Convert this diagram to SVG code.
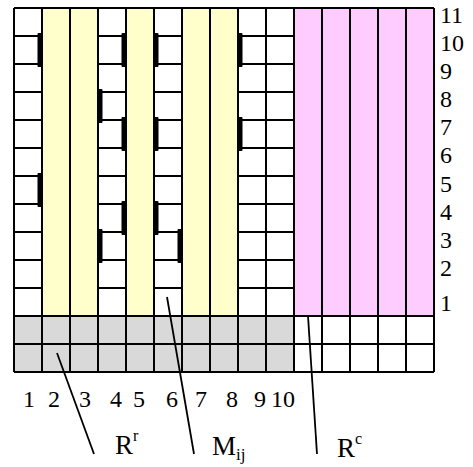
<svg xmlns="http://www.w3.org/2000/svg" width="473" height="467" viewBox="0 0 473 467">
<style>
.ln{stroke:#000;stroke-width:2;fill:none}
.yel{fill:#ffffcc}
.pnk{fill:#ffccff}
.gry{fill:#d9d9d9}
.bar{fill:#000}
.lead{stroke:#000;stroke-width:1.8;fill:none}
</style>
<rect width="473" height="467" fill="#fff"/>
<g id="fills">
<rect class="yel" x="42" y="8" width="56" height="308"/>
<rect class="yel" x="126" y="8" width="28" height="308"/>
<rect class="yel" x="182" y="8" width="56" height="308"/>
<rect class="pnk" x="294" y="8" width="140" height="308"/>
<rect class="gry" x="14" y="316" width="280" height="56"/>
</g>
<g id="grid">
<path class="ln" d="M14 36H42M14 64H42M14 92H42M14 120H42M14 148H42M14 176H42M14 204H42M14 232H42M14 260H42M14 288H42"/>
<path class="ln" d="M98 36H126M98 64H126M98 92H126M98 120H126M98 148H126M98 176H126M98 204H126M98 232H126M98 260H126M98 288H126"/>
<path class="ln" d="M154 36H182M154 64H182M154 92H182M154 120H182M154 148H182M154 176H182M154 204H182M154 232H182M154 260H182M154 288H182"/>
<path class="ln" d="M238 36H294M238 64H294M238 92H294M238 120H294M238 148H294M238 176H294M238 204H294M238 232H294M238 260H294M238 288H294"/>
<path class="ln" d="M14 8H434M14 316H434M14 344H434M14 372H434"/>
<path class="ln" d="M14 8V372M42 8V372M70 8V372M98 8V372M126 8V372M154 8V372M182 8V372M210 8V372M238 8V372M266 8V372M294 8V372M322 8V372M350 8V372M378 8V372M406 8V372M434 8V372"/>
</g>
<g id="bars">
<rect class="bar" x="37.5" y="33" width="4.5" height="34" rx="1"/>
<rect class="bar" x="37.5" y="173" width="4.5" height="34" rx="1"/>
<rect class="bar" x="98" y="89" width="4.5" height="34" rx="1"/>
<rect class="bar" x="98" y="229" width="4.5" height="34" rx="1"/>
<rect class="bar" x="121.5" y="33" width="4.5" height="34" rx="1"/>
<rect class="bar" x="121.5" y="117" width="4.5" height="34" rx="1"/>
<rect class="bar" x="121.5" y="201" width="4.5" height="34" rx="1"/>
<rect class="bar" x="154" y="33" width="4.5" height="34" rx="1"/>
<rect class="bar" x="154" y="117" width="4.5" height="34" rx="1"/>
<rect class="bar" x="154" y="201" width="4.5" height="34" rx="1"/>
<rect class="bar" x="177.5" y="229" width="4.5" height="34" rx="1"/>
<rect class="bar" x="238" y="33" width="4.5" height="34" rx="1"/>
<rect class="bar" x="238" y="117" width="4.5" height="34" rx="1"/>
</g>
<g id="row-labels" font-family="'Liberation Serif', 'Times New Roman', serif" font-size="24" fill="#000">
<text x="440" y="23">11</text>
<text x="440" y="51">10</text>
<text x="440" y="79">9</text>
<text x="440" y="107">8</text>
<text x="440" y="135">7</text>
<text x="440" y="163">6</text>
<text x="440" y="192">5</text>
<text x="440" y="220">4</text>
<text x="440" y="248">3</text>
<text x="440" y="276">2</text>
<text x="440" y="311">1</text>
</g>
<g id="col-labels" font-family="'Liberation Serif', 'Times New Roman', serif" font-size="24" fill="#000" text-anchor="middle">
<text x="29" y="407">1</text>
<text x="54" y="407">2</text>
<text x="85" y="407">3</text>
<text x="116" y="407">4</text>
<text x="139" y="407">5</text>
<text x="172" y="407">6</text>
<text x="201" y="407">7</text>
<text x="232" y="407">8</text>
<text x="260" y="407">9</text>
<text x="283" y="407">10</text>
</g>
<g id="connectors">
<line class="lead" x1="57" y1="353" x2="94" y2="454"/>
<line class="lead" x1="167" y1="297" x2="194" y2="454"/>
<line class="lead" x1="308" y1="316" x2="317" y2="454"/>
</g>
<g font-family="'Liberation Serif', 'Times New Roman', serif" font-size="27" fill="#000">
<g id="label-Rr"><text x="115" y="454">R<tspan font-size="16" dy="-13">r</tspan></text></g>
<g id="label-Mij"><text x="212" y="455">M<tspan font-size="17" dy="5">ij</tspan></text></g>
<g id="label-Rc"><text x="337" y="457">R<tspan font-size="16" dy="-13">c</tspan></text></g>
</g>
</svg>
